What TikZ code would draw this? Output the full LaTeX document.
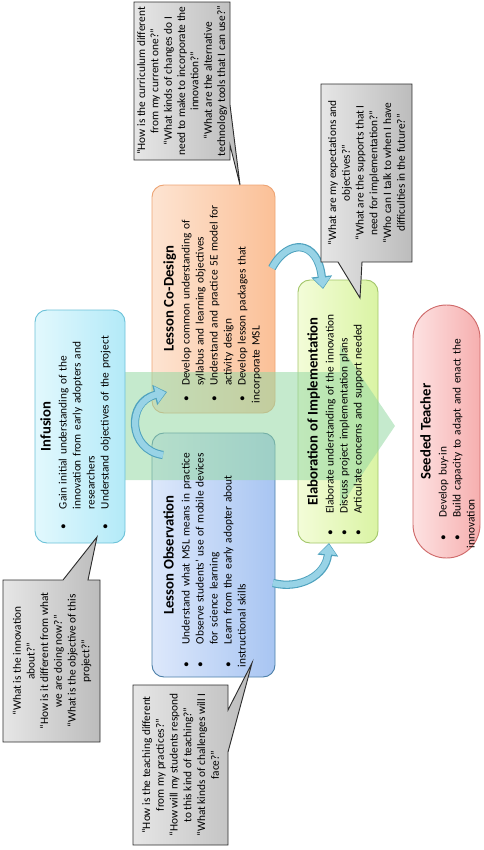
\documentclass[tikz,border=0pt]{standalone}
\usepackage{fontspec}
\setmainfont{Carlito}
\usetikzlibrary{arrows.meta}
\definecolor{infL}{HTML}{E2F8FD}\definecolor{infR}{HTML}{B3EAF8}\definecolor{infD}{HTML}{6CC2D8}
\definecolor{coL}{HTML}{FDE4D2}\definecolor{coR}{HTML}{FBC097}\definecolor{coD}{HTML}{EDA474}
\definecolor{obL}{HTML}{DDE8FB}\definecolor{obR}{HTML}{A8C5F2}\definecolor{obD}{HTML}{4C7FA8}
\definecolor{elL}{HTML}{F3FCD8}\definecolor{elR}{HTML}{DAF4A4}\definecolor{elD}{HTML}{A3C66A}
\definecolor{seL}{HTML}{FDE2E2}\definecolor{seR}{HTML}{F6AFAF}\definecolor{seD}{HTML}{CF6A6A}
\definecolor{caL}{HTML}{E6E6E6}\definecolor{caR}{HTML}{BCBCBC}\definecolor{caD}{HTML}{2E2E2E}
\definecolor{flow}{HTML}{96D8A4}
\definecolor{curv}{HTML}{98D3E6}
\definecolor{curvD}{HTML}{4FA2BE}
\newlength\bhang \newlength\bpre
\newcommand\bitem[1]{\par\noindent\hangindent=\bhang\hangafter=1\makebox[\bhang][l]{\hspace{\bpre}\textbullet}#1}
\newcommand\btitle[1]{{\centering\fontsize{11}{13}\selectfont\bfseries #1\par}\vspace{1.5pt}}
\tikzset{
  stagebox/.style={rectangle, rounded corners=9pt, line width=0.7pt, inner sep=0pt},
  stagetext/.style={rotate=90, anchor=north, align=left, inner sep=0pt, font=\fontsize{8.5}{10.5}\selectfont},
  calltext/.style={rotate=90, align=center, inner sep=0pt, font=\fontsize{8.5}{10.3}\selectfont},
  callshape/.style={draw=caD, line width=0.7pt, left color=caL, right color=caR},
  curvout/.style={draw=curvD, line width=6.2pt, -{Triangle[length=9.5pt,width=15pt]}},
  curvin/.style={draw=curv, line width=4.6pt, shorten >=0.9pt, -{Triangle[length=7.6pt,width=12.4pt]}}
}
\begin{document}
\begin{tikzpicture}[x=0.75pt,y=-0.75pt]
\useasboundingbox (0,0) rectangle (484,850);
% stage boxes
\node[stagebox, draw=coD, left color=coL, right color=coR, minimum width=92.25pt, minimum height=171pt] (codesign) at (213.5,299) {};
\node[stagebox, draw=obD, left color=obL, right color=obR, minimum width=92.25pt, minimum height=183pt] (observation) at (213.5,555) {};
\node[stagebox, draw=elD, left color=elL, right color=elR, minimum width=60pt, minimum height=197.25pt] (elaboration) at (338,411.5) {};
\node[stagebox, rounded corners=25pt, draw=seD, left color=seL, right color=seR, minimum width=50.25pt, minimum height=189.75pt] (seeded) at (446.5,431.5) {};
% big flow arrow
\fill[flow, fill opacity=0.55] (100,372) -- (340,372) -- (340,345) -- (395,426) -- (340,507) -- (340,480) -- (100,480) -- cycle;
\node[stagebox, draw=infD, left color=infL, right color=infR, minimum width=67.5pt, minimum height=174.75pt] (infusion) at (80,426.5) {};
% curved arrows
\coordinate (a1s) at (163,455); \coordinate (a1e) at (167,392);
\coordinate (a2s) at (272,268); \coordinate (a2e) at (323,289);
\coordinate (a3s) at (273,583); \coordinate (a3e) at (329,543);
\foreach \st in {curvout,curvin}{
  \draw[\st] (a1s) .. controls (128,450) and (126,402) .. (a1e);
  \draw[\st] (a2s) .. controls (288,238) and (318,240) .. (a2e);
  \draw[\st] (a3s) .. controls (300,590) and (326,575) .. (a3e);
}
% stage texts
\node[stagetext, text width=159.75pt] (tinf) at (40,426.5) {\setlength\bhang{18pt}\setlength\bpre{3pt}%
\btitle{Infusion}
\bitem{Gain initial understanding of the\newline innovation from early adopters and\newline researchers}
\bitem{Understand objectives of the project}};
\node[stagetext, text width=156pt] (tco) at (163,299) {\setlength\bhang{13pt}\setlength\bpre{1.5pt}%
\btitle{Lesson Co-Design}
\bitem{Develop common understanding of\newline syllabus and learning objectives}
\bitem{Understand and practice 5E model for\newline activity design}
\bitem{Develop lesson packages that\newline incorporate MSL}};
\node[stagetext, text width=168pt] (tob) at (163,555) {\setlength\bhang{17pt}\setlength\bpre{0pt}%
\btitle{Lesson Observation}
\bitem{Understand what MSL means in practice}
\bitem{Observe students’ use of mobile devices\newline for science learning}
\bitem{Learn from the early adopter about\newline instructional skills}};
\node[stagetext, text width=185.25pt] (tel) at (307,411.5) {\setlength\bhang{16pt}\setlength\bpre{0pt}%
\btitle{Elaboration of Implementation}
\bitem{Elaborate understanding of the innovation}
\bitem{Discuss project implementation plans}
\bitem{Articulate concerns and support needed}};
\node[stagetext, text width=174.75pt] (tse) at (420,431.5) {\setlength\bhang{23pt}\setlength\bpre{6pt}%
\btitle{Seeded Teacher}
\bitem{Develop buy-in}
\bitem{Build capacity to adapt and enact the\newline innovation}};
% callouts
\coordinate (p1) at (97,537); \coordinate (p2) at (252,663); \coordinate (p3) at (240,185); \coordinate (p4) at (360,298);
\shade[callshape] (3,580) -- (63,580) -- (p1) -- (88,580) -- (100,580) -- (100,742) -- (3,742) -- cycle;
\shade[callshape] (133,685) -- (228,685) -- (228,710) -- (p2) -- (228,752) -- (228,845) -- (133,845) -- cycle;
\shade[callshape] (134,2) -- (230,2) -- (230,105) -- (p3) -- (230,145) -- (230,160) -- (134,160) -- cycle;
\shade[callshape] (321,84) -- (412,84) -- (412,262) -- (362,262) -- (p4) -- (338,262) -- (321,262) -- cycle;
\node[calltext] (c1) at (52,661) {“What is the innovation\\ about?”\\ “How is it different from what\\ we are doing now?”\\ “What is the objective of this\\ project?”};
\node[calltext] (c2) at (180.5,765) {“How is the teaching different\\ from my practices?”\\ “How will my students respond\\ to this kind of teaching?”\\ “What kinds of challenges will I\\ face?”};
\node[calltext, font=\fontsize{8.5}{10}\selectfont] (c3) at (182,81) {“How is the curriculum different\\ from my current one?”\\ “What kinds of changes do I\\ need to make to incorporate the\\ innovation?”\\ “What are the alternative\\ technology tools that I can use?”};
\node[calltext] (c4) at (366.5,173) {“What are my expectations and\\ objectives?”\\ “What are the supports that I\\ need for implementation?”\\ “Who can I talk to when I have\\ difficulties in the future?”};
\end{tikzpicture}
\end{document}
